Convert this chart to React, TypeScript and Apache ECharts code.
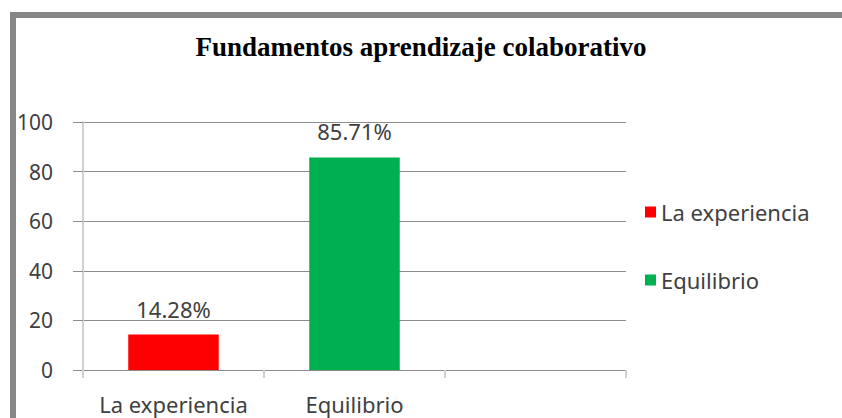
import React, { useEffect, useRef } from "react";
import * as echarts from "echarts";

const titleText = "Fundamentos aprendizaje colaborativo";
const categories = ["La experiencia", "Equilibrio", ""];
const seriesNames = ["La experiencia", "Equilibrio"];
const experienciaValues = [14.28, null, null];
const equilibrioValues = [null, 85.71, null];
const seriesColors = ["#ff0000", "#00b050"];
const yMin = 0;
const yMax = 100;
const yInterval = 20;

const sansFont = "'Noto Sans', sans-serif";
const textColor = "#404040";

export default function App() {
  const ref = useRef<HTMLDivElement>(null);

  useEffect(() => {
    if (!ref.current) return;
    const chart = echarts.init(ref.current, undefined, { renderer: "svg" });
    const labelFmt = (p: any) => `${Number(p.value).toFixed(2)}%`;
    const barLabel = {
      show: true,
      position: "top",
      distance: 15,
      formatter: labelFmt,
      fontFamily: sansFont,
      fontSize: 22,
      color: textColor,
    };
    chart.setOption({
      animation: false,
      backgroundColor: "#ffffff",
      title: {
        text: titleText,
        left: "center",
        top: 33,
        padding: 0,
        textStyle: {
          fontFamily: "'Liberation Serif', serif",
          fontWeight: "bold",
          fontSize: 27,
          color: "#000000",
        },
      },
      graphic: [
        {
          type: "rect",
          shape: { x: 13, y: 15, width: 900, height: 500 },
          style: { fill: "none", stroke: "#878787", lineWidth: 6 },
          silent: true,
        },
      ],
      legend: {
        orient: "vertical",
        left: 645,
        top: 201,
        padding: 0,
        itemWidth: 11,
        itemHeight: 11,
        itemGap: 46,
        icon: "rect",
        textStyle: {
          fontFamily: sansFont,
          fontSize: 22,
          color: textColor,
          lineHeight: 22,
        },
        data: seriesNames,
      },
      grid: { left: 83, right: 216, top: 122, bottom: 48, containLabel: false },
      xAxis: {
        type: "category",
        data: categories,
        axisLine: { show: true, lineStyle: { color: "#8c8c8c", width: 1 } },
        axisTick: { show: true, length: 8, lineStyle: { color: "#d0d0d0", width: 2 } },
        axisLabel: {
          interval: 0,
          margin: 23,
          fontFamily: sansFont,
          fontSize: 22,
          color: textColor,
        },
      },
      yAxis: {
        type: "value",
        min: yMin,
        max: yMax,
        interval: yInterval,
        axisLine: { show: true, lineStyle: { color: "#d0d0d0", width: 2 } },
        axisTick: { show: true, length: 10, lineStyle: { color: "#8c8c8c", width: 1 } },
        splitLine: { show: true, lineStyle: { color: "#8c8c8c", width: 1 } },
        axisLabel: {
          margin: 30,
          fontFamily: sansFont,
          fontSize: 21,
          color: textColor,
        },
      },
      series: [
        {
          name: seriesNames[0],
          type: "bar",
          stack: "s",
          data: experienciaValues,
          barWidth: "50%",
          itemStyle: { color: seriesColors[0] },
          label: barLabel,
        },
        {
          name: seriesNames[1],
          type: "bar",
          stack: "s",
          data: equilibrioValues,
          barWidth: "50%",
          itemStyle: { color: seriesColors[1] },
          label: barLabel,
        },
      ],
    });
    return () => chart.dispose();
  }, []);

  return (
    <div
      ref={ref}
      style={{ position: "fixed", left: 0, top: 0, width: 842, height: 418, background: "#fff" }}
    />
  );
}
